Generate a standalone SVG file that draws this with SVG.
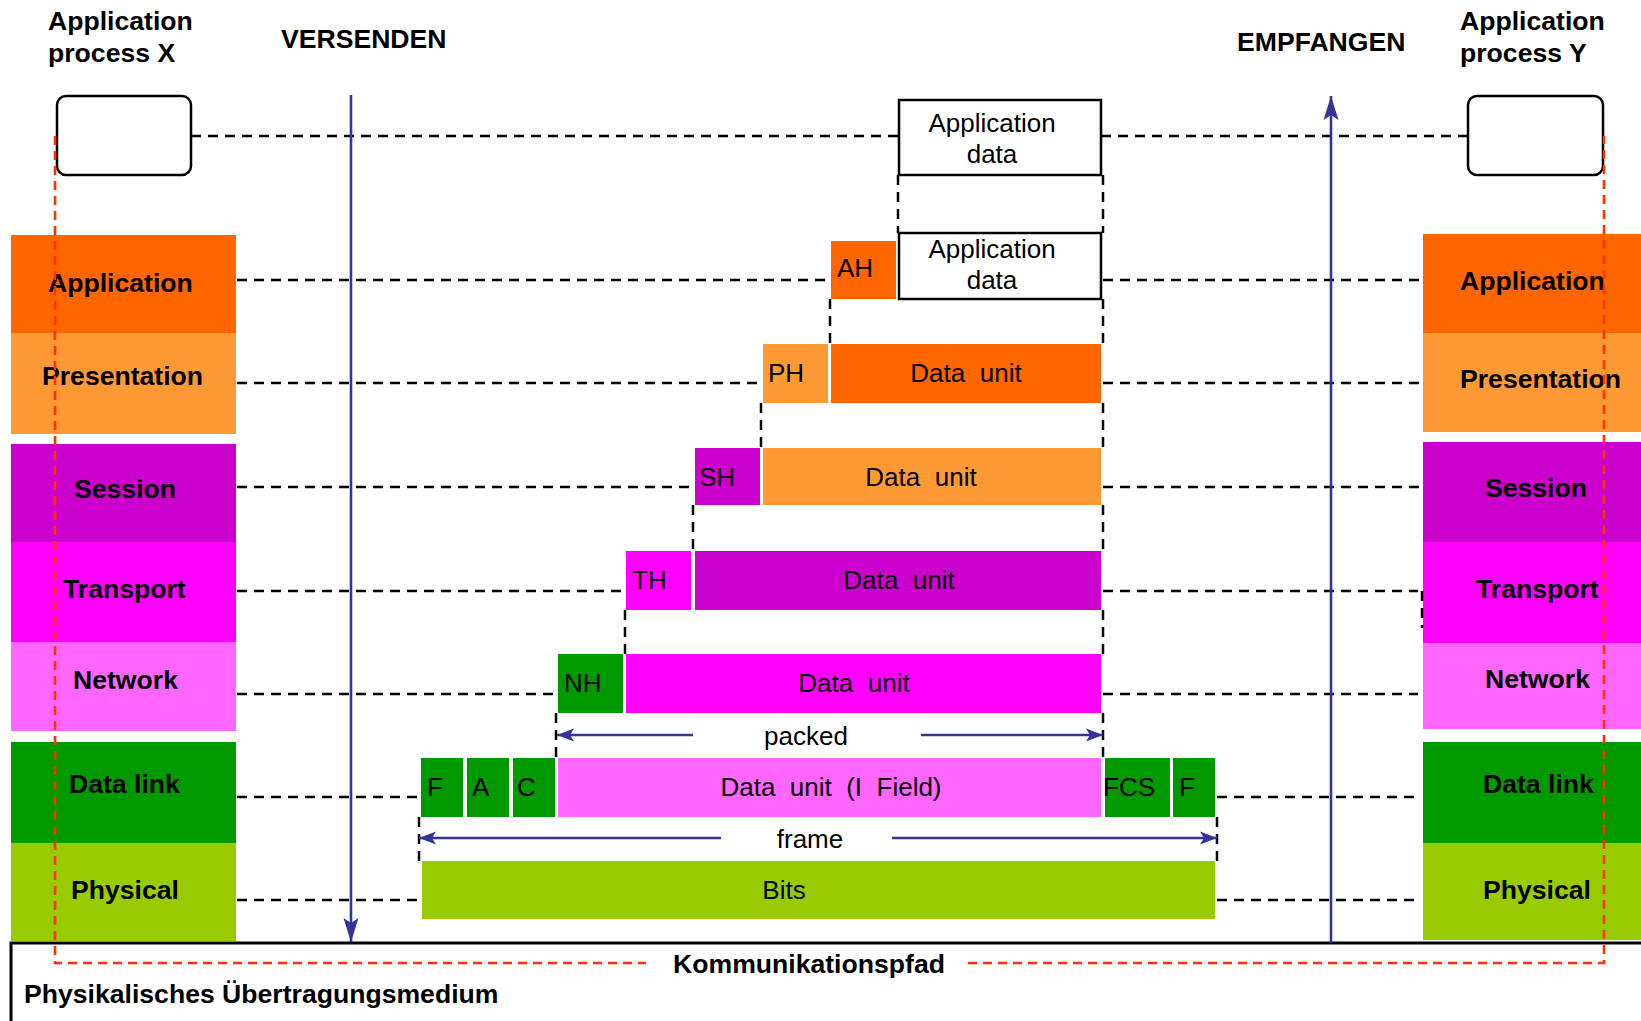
<svg xmlns="http://www.w3.org/2000/svg" width="1641" height="1021" viewBox="0 0 1641 1021">
  <style>
    text { font-family: "Liberation Sans", Arial, sans-serif; font-size: 26px; fill: #000; white-space: pre; }
    .b { font-weight: bold; font-size: 26.6px; }
    .mid { text-anchor: middle; }
    .lvl { stroke: #000; stroke-width: 2.5; stroke-dasharray: 10 7; fill: none; }
    .red { stroke: #ff3300; stroke-width: 2.6; stroke-dasharray: 9 6; fill: none; }
    .flow { stroke: #333399; stroke-width: 2.6; fill: none; }
    .box { fill: #fff; stroke: #000; stroke-width: 2.5; }
    .app { fill: #ff6600; }
    .pre { fill: #ff9933; }
    .ses { fill: #cc00cc; }
    .tra { fill: #ff00ff; }
    .net { fill: #ff66ff; }
    .dl  { fill: #009900; }
    .phy { fill: #99cc00; }
  </style>
  <defs>
    <marker id="bigHead" markerUnits="userSpaceOnUse" viewBox="-1 -9 27 18" refX="24" refY="0" markerWidth="27" markerHeight="18" orient="auto">
      <path d="M0,-7.5 L24,0 L0,7.5 L5,0 Z" fill="#333399"/>
    </marker>
    <marker id="smallHead" markerUnits="userSpaceOnUse" viewBox="-1 -8 19 16" refX="17" refY="0" markerWidth="19" markerHeight="16" orient="auto">
      <path d="M0,-6.5 L17,0 L0,6.5 L4,0 Z" fill="#333399"/>
    </marker>
  </defs>

  <rect width="1641" height="1021" fill="#fff"/>

  <!-- headings -->
  <text class="b" x="48" y="30">Application</text>
  <text class="b" x="48" y="62">process X</text>
  <text class="b" x="281" y="48">VERSENDEN</text>
  <text class="b" x="1237" y="51">EMPFANGEN</text>
  <text class="b" x="1460" y="30">Application</text>
  <text class="b" x="1460" y="62">process Y</text>

  <!-- transmission medium -->
  <g id="medium">
    <rect x="11" y="943" width="1700" height="120" fill="none" stroke="#000" stroke-width="3"/>
    <text class="b" x="24" y="1003">Physikalisches Übertragungsmedium</text>
    <text class="b mid" x="809" y="973">Kommunikationspfad</text>
  </g>

  <!-- sender stack -->
  <g id="stack-x">
    <rect id="proc-x" class="box" x="57" y="96" width="134" height="79" rx="9"/>
    <g id="x-application"><rect class="app" x="11" y="235" width="225" height="98"/><text class="b" x="48" y="292">Application</text></g>
    <g id="x-presentation"><rect class="pre" x="11" y="333" width="225" height="101"/><text class="b" x="42" y="385">Presentation</text></g>
    <g id="x-session"><rect class="ses" x="11" y="444" width="225" height="98"/><text class="b" x="74" y="498">Session</text></g>
    <g id="x-transport"><rect class="tra" x="11" y="542" width="225" height="100"/><text class="b" x="63" y="598">Transport</text></g>
    <g id="x-network"><rect class="net" x="11" y="642" width="225" height="89"/><text class="b" x="73" y="689">Network</text></g>
    <g id="x-datalink"><rect class="dl" x="11" y="742" width="225" height="101"/><text class="b" x="69" y="793">Data link</text></g>
    <g id="x-physical"><rect class="phy" x="11" y="843" width="225" height="98"/><text class="b" x="71" y="899">Physical</text></g>
  </g>

  <!-- receiver stack -->
  <g id="stack-y">
    <rect id="proc-y" class="box" x="1468" y="96" width="135" height="79" rx="9"/>
    <g id="y-application"><rect class="app" x="1423" y="234" width="218" height="99"/><text class="b" x="1460" y="290">Application</text></g>
    <g id="y-presentation"><rect class="pre" x="1423" y="333" width="218" height="99"/><text class="b" x="1460" y="388">Presentation</text></g>
    <g id="y-session"><rect class="ses" x="1423" y="442" width="218" height="100"/><text class="b" x="1485" y="497">Session</text></g>
    <g id="y-transport"><rect class="tra" x="1423" y="542" width="218" height="101"/><text class="b" x="1476" y="598">Transport</text></g>
    <g id="y-network"><rect class="net" x="1423" y="643" width="218" height="86"/><text class="b" x="1485" y="688">Network</text></g>
    <g id="y-datalink"><rect class="dl" x="1423" y="742" width="218" height="101"/><text class="b" x="1483" y="793">Data link</text></g>
    <g id="y-physical"><rect class="phy" x="1423" y="843" width="218" height="97"/><text class="b" x="1483" y="899">Physical</text></g>
  </g>

  <!-- encapsulated units -->
  <g id="pdu-app-data">
    <rect class="box" x="899" y="100" width="202" height="75"/>
    <text class="mid" x="992" y="132">Application</text>
    <text class="mid" x="992" y="163">data</text>
  </g>
  <g id="pdu-application">
    <rect class="app" x="831" y="241" width="65" height="58"/><text x="837" y="277">AH</text>
    <rect class="box" x="899" y="233" width="202" height="66"/>
    <text class="mid" x="992" y="258">Application</text>
    <text class="mid" x="992" y="289">data</text>
  </g>
  <g id="pdu-presentation">
    <rect class="pre" x="763" y="344" width="65" height="59"/><text x="768" y="382">PH</text>
    <rect class="app" x="831" y="344" width="270" height="59"/><text class="mid" x="966" y="382">Data  unit</text>
  </g>
  <g id="pdu-session">
    <rect class="ses" x="695" y="448" width="65" height="57"/><text x="699" y="486">SH</text>
    <rect class="pre" x="763" y="448" width="338" height="57"/><text class="mid" x="921" y="486">Data  unit</text>
  </g>
  <g id="pdu-transport">
    <rect class="tra" x="626" y="551" width="65" height="59"/><text x="632" y="589">TH</text>
    <rect class="ses" x="695" y="551" width="406" height="59"/><text class="mid" x="899" y="589">Data  unit</text>
  </g>
  <g id="pdu-network">
    <rect class="dl" x="558" y="654" width="65" height="59"/><text x="564" y="692">NH</text>
    <rect class="tra" x="626" y="654" width="475" height="59"/><text class="mid" x="854" y="692">Data  unit</text>
  </g>
  <g id="pdu-datalink">
    <rect class="dl" x="421" y="758" width="42" height="59"/><text x="427" y="796">F</text>
    <rect class="dl" x="467" y="758" width="42" height="59"/><text x="472" y="796">A</text>
    <rect class="dl" x="513" y="758" width="42" height="59"/><text x="517" y="796">C</text>
    <rect class="net" x="558" y="758" width="543" height="59"/><text class="mid" x="831" y="796">Data  unit  (I  Field)</text>
    <rect class="dl" x="1105" y="758" width="65" height="59"/><text x="1103" y="796">FCS</text>
    <rect class="dl" x="1173" y="758" width="42" height="59"/><text x="1179" y="796">F</text>
  </g>
  <g id="pdu-physical">
    <rect class="phy" x="422" y="861" width="793" height="58"/><text class="mid" x="784" y="899">Bits</text>
  </g>

  <!-- connectors -->
  <g id="connectors">
    <!-- peer level lines -->
    <path class="lvl" d="M191,136 H899 M1101,136 H1468"/>
    <path class="lvl" d="M237,280 H829 M1103,280 H1422"/>
    <path class="lvl" d="M237,383 H761 M1103,383 H1422"/>
    <path class="lvl" d="M237,487 H693 M1103,487 H1422"/>
    <path class="lvl" d="M237,591 H624 M1103,591 H1418 M1422,591 V628"/>
    <path class="lvl" d="M237,694 H556 M1103,694 H1418"/>
    <path class="lvl" d="M237,797 H419 M1217,797 H1418"/>
    <path class="lvl" d="M237,900 H419 M1217,900 H1418"/>
    <!-- encapsulation guides -->
    <path class="lvl" d="M898,175 V233 M1103,175 V233"/>
    <path class="lvl" d="M830,299 V344 M1103,299 V344"/>
    <path class="lvl" d="M761,403 V448 M1103,403 V448"/>
    <path class="lvl" d="M693,505 V551 M1103,505 V551"/>
    <path class="lvl" d="M625,610 V654 M1103,610 V654"/>
    <path class="lvl" d="M556,713 V758 M1103,713 V758"/>
    <path class="lvl" d="M419,817 V861 M1217,817 V861"/>
    <!-- send / receive direction -->
    <line class="flow" x1="351" y1="95" x2="351" y2="942" marker-end="url(#bigHead)"/>
    <line class="flow" x1="1331" y1="943" x2="1331" y2="96" marker-end="url(#bigHead)"/>
    <!-- span arrows -->
    <line class="flow" x1="693" y1="735" x2="557" y2="735" marker-end="url(#smallHead)"/>
    <line class="flow" x1="921" y1="735" x2="1103" y2="735" marker-end="url(#smallHead)"/>
    <text class="mid" x="806" y="745">packed</text>
    <line class="flow" x1="721" y1="838" x2="419" y2="838" marker-end="url(#smallHead)"/>
    <line class="flow" x1="892" y1="838" x2="1217" y2="838" marker-end="url(#smallHead)"/>
    <text class="mid" x="810" y="848">frame</text>
    <!-- communication path -->
    <path class="red" d="M55,136 V963 H646"/>
    <path class="red" d="M968,963 H1604 V136"/>
  </g>
</svg>
